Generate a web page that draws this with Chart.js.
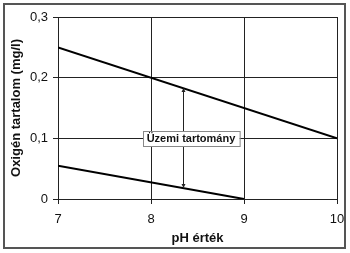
<!DOCTYPE html>
<html>
<head>
<meta charset="utf-8">
<script src="https://cdn.jsdelivr.net/npm/chart.js@4/dist/chart.umd.min.js"></script>
<style>
  html, body { margin: 0; padding: 0; background: #fff; }
  #wrap { width: 350px; height: 253px; position: relative; }
</style>
</head>
<body>
<div id="wrap"><canvas id="myChart" width="350" height="253"></canvas></div>
<script>
// adatok
var felsoX = [7, 10];
var felsoY = [0.25, 0.1];
var alsoX = [7, 9];
var alsoY = [0.055, 0];
var yTicks = [0, 0.1, 0.2, 0.3];
var xTicks = [7, 8, 9, 10];

// nyil es felirat
var nyilX = 8.34;
var nyilFelso = 0.183;
var nyilAlso = 0.018;
var feliratX = 8.43;
var feliratY = 0.1;
var felirat = "Üzemi tartomány";

var axisFont = { family: 'Arial, "Liberation Sans", sans-serif', size: 13 };
var titleFont = { family: 'Arial, "Liberation Sans", sans-serif', size: 13, weight: 'bold' };

function pontok(xs, ys) {
    return xs.map(function(x, i) { return { x: x, y: ys[i] }; });
}

var keretPlugin = {
    id: 'keret',
    afterDraw: function(chart) {
        var c = chart.ctx;
        c.save();
        c.strokeStyle = '#555';
        c.lineWidth = 2;
        c.strokeRect(4, 4, 341, 244);
        c.restore();
    }
};

var nyilPlugin = {
    id: 'nyil',
    afterDatasetsDraw: function(chart) {
        var c = chart.ctx;
        var xs = chart.scales.x, ys = chart.scales.y;
        var px = Math.round(xs.getPixelForValue(nyilX)) + 0.5;
        var pTop = ys.getPixelForValue(nyilFelso);
        var pBot = ys.getPixelForValue(nyilAlso);
        c.save();
        c.strokeStyle = '#222';
        c.fillStyle = '#222';
        c.lineWidth = 1;
        c.beginPath();
        c.moveTo(px, pTop + 1);
        c.lineTo(px, pBot - 1);
        c.stroke();
        c.beginPath();
        c.moveTo(px, pTop);
        c.lineTo(px - 2, pTop + 4);
        c.lineTo(px + 2, pTop + 4);
        c.closePath();
        c.fill();
        c.beginPath();
        c.moveTo(px, pBot);
        c.lineTo(px - 2, pBot - 4);
        c.lineTo(px + 2, pBot - 4);
        c.closePath();
        c.fill();

        // felirat doboz
        var lx = xs.getPixelForValue(feliratX);
        var ly = ys.getPixelForValue(feliratY);
        c.font = 'bold 11px Arial, "Liberation Sans", sans-serif';
        var w = c.measureText(felirat).width + 8;
        var h = 15;
        c.fillStyle = '#fff';
        c.fillRect(Math.round(lx - w / 2), Math.round(ly - h / 2), w, h);
        c.strokeStyle = '#888';
        c.strokeRect(Math.round(lx - w / 2) + 0.5, Math.round(ly - h / 2) + 0.5, w, h);
        c.fillStyle = '#111';
        c.textAlign = 'center';
        c.textBaseline = 'middle';
        c.fillText(felirat, lx, ly + 1);
        c.restore();
    }
};

var ctx = document.getElementById("myChart").getContext('2d');
var chart = new Chart(ctx, {
    type: 'line',
    data: {
        datasets: [{
            label: 'felső',
            data: pontok(felsoX, felsoY),
            borderColor: '#000',
            borderWidth: 2,
            pointRadius: 0,
            fill: false
        }, {
            label: 'alsó',
            data: pontok(alsoX, alsoY),
            borderColor: '#000',
            borderWidth: 2,
            pointRadius: 0,
            fill: false
        }]
    },
    options: {
        responsive: false,
        animation: false,
        events: [],
        layout: { padding: { left: 6, right: 13, top: 17, bottom: 6 } },
        plugins: {
            legend: { display: false },
            tooltip: { enabled: false }
        },
        scales: {
            x: {
                type: 'linear',
                min: 7,
                max: 10,
                afterBuildTicks: function(s) { s.ticks = xTicks.map(function(v) { return { value: v }; }); },
                afterFit: function(s) { s.height = 48; s.paddingRight = 0; s.paddingLeft = 0; },
                grid: { color: '#222', lineWidth: 1, tickLength: 5, drawTicks: true },
                border: { color: '#222', width: 1 },
                ticks: {
                    color: '#111',
                    font: axisFont,
                    padding: 8,
                    maxRotation: 0,
                    callback: function(v) { return String(v); }
                },
                title: {
                    display: true,
                    text: 'pH érték',
                    color: '#111',
                    font: titleFont,
                    padding: { top: 4, bottom: 1 }
                }
            },
            y: {
                min: 0,
                max: 0.3,
                afterBuildTicks: function(s) { s.ticks = yTicks.map(function(v) { return { value: v }; }); },
                afterFit: function(s) { s.width = 52; s.paddingTop = 0; s.paddingBottom = 0; },
                grid: { color: '#222', lineWidth: 1, tickLength: 5, drawTicks: true },
                border: { color: '#222', width: 1 },
                ticks: {
                    color: '#111',
                    font: axisFont,
                    padding: 5,
                    callback: function(v) {
                        if (v === 0) return '0';
                        return (Math.round(v * 10) / 10).toFixed(1).replace('.', ',');
                    }
                },
                title: {
                    display: true,
                    text: 'Oxigén tartalom (mg/l)',
                    color: '#111',
                    font: titleFont,
                    padding: { top: 3, bottom: 2 }
                }
            }
        }
    },
    plugins: [keretPlugin, nyilPlugin]
});
</script>
</body>
</html>
